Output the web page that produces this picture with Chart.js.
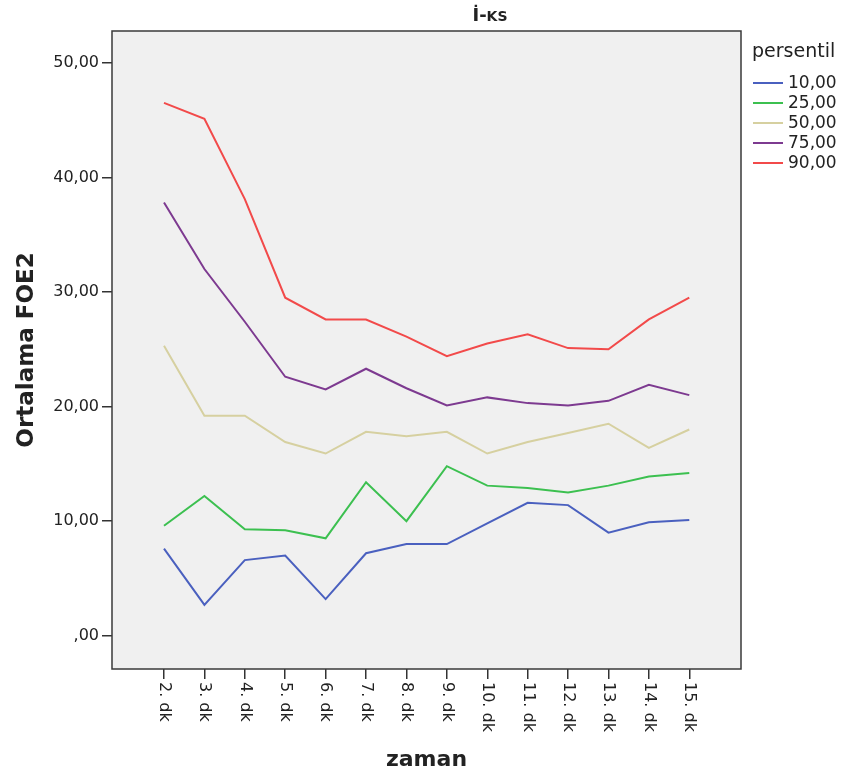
<!DOCTYPE html>
<html>
<head>
<meta charset="utf-8">
<script src="https://cdn.jsdelivr.net/npm/chart.js@4"></script>
<style>
  body { margin: 0; background: #fff; }
  #wrap { width: 842px; height: 778px; }
</style>
</head>
<body>
<div id="wrap"><canvas id="chart" width="842" height="778"></canvas></div>
<script>
// data
const categories = ['2. dk', '3. dk', '4. dk', '5. dk', '6. dk', '7. dk', '8. dk',
  '9. dk', '10. dk', '11. dk', '12. dk', '13. dk', '14. dk', '15. dk'];
const p10 = [7.6, 2.7, 6.6, 7.0, 3.2, 7.2, 8.0, 8.0, 9.8, 11.6, 11.4, 9.0, 9.9, 10.1];
const p25 = [9.6, 12.2, 9.3, 9.2, 8.5, 13.4, 10.0, 14.8, 13.1, 12.9, 12.5, 13.1, 13.9, 14.2];
const p50 = [25.3, 19.2, 19.2, 16.9, 15.9, 17.8, 17.4, 17.8, 15.9, 16.9, 17.7, 18.5, 16.4, 18.0];
const p75 = [37.8, 32.0, 27.4, 22.6, 21.5, 23.3, 21.6, 20.1, 20.8, 20.3, 20.1, 20.5, 21.9, 21.0];
const p90 = [46.5, 45.1, 38.1, 29.5, 27.6, 27.6, 26.1, 24.4, 25.5, 26.3, 25.1, 25.0, 27.6, 29.5];
const seriesNames = ['10,00', '25,00', '50,00', '75,00', '90,00'];
const yTicks = [0, 10, 20, 30, 40, 50];
const yTickLabels = [',00', '10,00', '20,00', '30,00', '40,00', '50,00'];

const colors = ['#4a60bf', '#3cc050', '#d6d0a0', '#7d3a90', '#f24a4a'];
const FONT = '"DejaVu Sans", sans-serif';
const TXT = '#222';

const toPoints = (vals) => vals.map((v, i) => ({ x: i, y: v }));

const datasets = [p10, p25, p50, p75, p90].map((vals, k) => ({
  label: seriesNames[k],
  data: toPoints(vals),
  borderColor: colors[k],
  borderWidth: 2,
  pointRadius: 0,
  tension: 0,
  fill: false,
}));

// plot background + frame
const framePlugin = {
  id: 'frame',
  beforeDraw(chart) {
    const { ctx, chartArea: a } = chart;
    ctx.save();
    ctx.fillStyle = '#f0f0f0';
    ctx.fillRect(a.left, a.top, a.right - a.left, a.bottom - a.top);
    ctx.restore();
  },
  afterDatasetsDraw(chart) {
    const { ctx, chartArea: a } = chart;
    ctx.save();
    ctx.strokeStyle = '#3a3a3a';
    ctx.lineWidth = 1.5;
    ctx.strokeRect(a.left, a.top, a.right - a.left, a.bottom - a.top);
    ctx.restore();
  },
};

// vertical x labels (read top to bottom), title and legend
const textPlugin = {
  id: 'texts',
  afterDraw(chart) {
    const { ctx } = chart;
    const xs = chart.scales.x;
    ctx.save();
    ctx.fillStyle = TXT;
    ctx.font = '16px ' + FONT;
    ctx.textAlign = 'left';
    ctx.textBaseline = 'middle';
    xs.ticks.forEach((t) => {
      const x = xs.getPixelForValue(t.value);
      ctx.save();
      ctx.translate(x, xs.top + 13);
      ctx.rotate(Math.PI / 2);
      ctx.fillText(categories[t.value], 0, 0);
      ctx.restore();
    });

    // title "İ-KS" with small caps
    ctx.textBaseline = 'alphabetic';
    ctx.font = 'bold 18px ' + FONT;
    const w1 = ctx.measureText('İ-').width;
    ctx.font = 'bold 14px ' + FONT;
    const w2 = ctx.measureText('KS').width;
    const tx = 490 - (w1 + w2) / 2;
    ctx.font = 'bold 18px ' + FONT;
    ctx.fillText('İ-', tx, 21);
    ctx.font = 'bold 14px ' + FONT;
    ctx.fillText('KS', tx + w1, 21);

    // legend
    ctx.textBaseline = 'middle';
    ctx.font = '19px ' + FONT;
    ctx.fillText('persentil', 752, 52);
    ctx.font = '17px ' + FONT;
    chart.data.datasets.forEach((ds, i) => {
      const y = 83 + i * 20;
      ctx.strokeStyle = ds.borderColor;
      ctx.lineWidth = 2;
      ctx.beginPath();
      ctx.moveTo(753, y);
      ctx.lineTo(783, y);
      ctx.stroke();
      ctx.fillStyle = TXT;
      ctx.fillText(ds.label, 788, y + 1);
    });
    ctx.restore();
  },
};

new Chart(document.getElementById('chart'), {
  type: 'line',
  data: { datasets },
  options: {
    responsive: false,
    animation: false,
    devicePixelRatio: 1,
    layout: { padding: { top: 31, right: 101, left: 0, bottom: 0 } },
    plugins: { legend: { display: false }, tooltip: { enabled: false }, title: { display: false } },
    scales: {
      x: {
        type: 'linear',
        min: -1.287,
        max: 14.28,
        afterBuildTicks: (s) => { s.ticks = categories.map((c, i) => ({ value: i })); },
        afterFit: (s) => { s.height = 109; },
        ticks: { display: false },
        grid: { drawOnChartArea: false, tickLength: 10, color: '#333', lineWidth: 1.5 },
        border: { display: false },
        title: {
          display: true,
          text: 'zaman',
          color: TXT,
          font: { family: FONT, size: 22, weight: 'bold' },
          padding: { top: 0, bottom: 5 },
        },
      },
      y: {
        min: -2.9,
        max: 52.77,
        afterBuildTicks: (s) => { s.ticks = yTicks.map((v) => ({ value: v })); },
        afterFit: (s) => { s.width = 112; },
        ticks: {
          color: TXT,
          font: { family: FONT, size: 16 },
          padding: 3,
          callback: (v) => yTickLabels[yTicks.indexOf(v)],
        },
        grid: { drawOnChartArea: false, tickLength: 10, color: '#333', lineWidth: 1.5 },
        border: { display: false },
        title: {
          display: true,
          text: 'Ortalama FOE2',
          color: TXT,
          font: { family: FONT, size: 23, weight: 'bold' },
          padding: { top: 13, bottom: 0 },
        },
      },
    },
  },
  plugins: [framePlugin, textPlugin],
});
</script>
</body>
</html>
